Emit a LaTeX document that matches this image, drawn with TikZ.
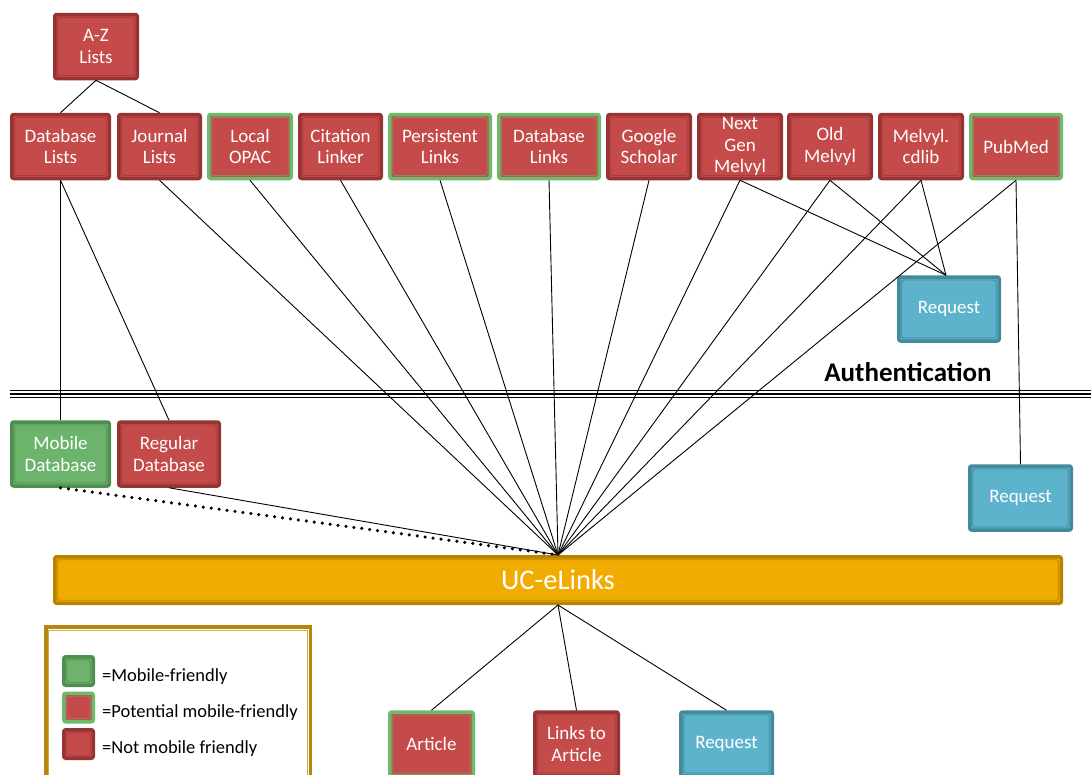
\documentclass[tikz,border=0pt]{standalone}
\usepackage{fontspec}
\setmainfont{Carlito}
\definecolor{redfill}{HTML}{C54A4A}
\definecolor{reddark}{HTML}{963434}
\definecolor{redinner}{HTML}{A83C3C}
\definecolor{greenfill}{HTML}{6CB46C}
\definecolor{greendark}{HTML}{4F8E4F}
\definecolor{greenlight}{HTML}{6DBA6D}
\definecolor{potinner}{HTML}{8E8A5A}
\definecolor{bluefill}{HTML}{5EB3CC}
\definecolor{bluedark}{HTML}{428A9C}
\definecolor{goldfill}{HTML}{F0AC00}
\definecolor{golddark}{HTML}{B88400}
\definecolor{legendgold}{HTML}{B8860B}
\begin{document}
\begin{tikzpicture}[x=1pt,y=-1pt,
  inline/.style={path picture={\draw[line width=0.9pt,#1]
      ([shift={(3pt,3pt)}]path picture bounding box.south west) rectangle
      ([shift={(-3pt,-3pt)}]path picture bounding box.north east);}},
  box/.style={rectangle, rounded corners=2pt, line width=3.5pt, inner sep=0pt,
    align=center, text=white, font=\fontsize{19}{21.5}\selectfont,
    minimum height=64pt},
  notm/.style={box, fill=redfill, draw=reddark, inline=redinner},
  pot/.style={box, fill=redfill, draw=greenlight, inline=potinner},
  mob/.style={box, fill=greenfill, draw=greendark, inline=greendark},
  req/.style={box, fill=bluefill, draw=bluedark, inline=bluedark},
  w/.style={minimum width=#1-3.5pt},
  conn/.style={line width=0.9pt, black},
  dots/.style={line width=3.5pt, line cap=round, dash pattern=on 0pt off 8pt},
  legtext/.style={anchor=west, font=\fontsize{18.5}{22}\selectfont, text=black, inner sep=0pt}
]
\useasboundingbox (0,0) rectangle (1091,774);

% top nodes
\node[notm, w=86] (az) at (96,46.5) {A-Z\\Lists};
\node[notm, w=101] (dbl) at (60.5,146.5) {Database\\Lists};
\node[notm, w=85] (jl) at (159.5,146.5) {Journal\\Lists};
\node[pot, w=86] (lo) at (250,146.5) {Local\\OPAC};
\node[notm, w=85] (cl) at (340.5,146.5) {Citation\\Linker};
\node[pot, w=104] (pl) at (440,146.5) {Persistent\\Links};
\node[pot, w=104] (dbk) at (549,146.5) {Database\\Links};
\node[notm, w=86] (gs) at (649,146.5) {Google\\Scholar};
\node[notm, w=86] (ngm) at (740,146.5) {Next\\Gen\\Melvyl};
\node[notm, w=86] (om) at (830,146.5) {Old\\Melvyl};
\node[notm, w=86] (mc) at (921,146.5) {Melvyl.\\cdlib};
\node[pot, w=94] (pm) at (1016,146.5) {PubMed};

\node[req, w=104] (r1) at (949,309) {Request};

% authentication line
\draw[line width=1pt] (10,390.5) -- (1091,390.5);
\draw[line width=2.2pt] (10,394) -- (1091,394);
\draw[line width=1pt] (10,397.5) -- (1091,397.5);
\node[font=\bfseries\fontsize{27}{30}\selectfont, inner sep=0pt] (auth) at (908,372) {Authentication};

\node[mob, w=101] (mdb) at (60.5,454) {Mobile\\Database};
\node[notm, w=104] (rdb) at (169,454) {Regular\\Database};
\node[req, w=105] (r2) at (1020.5,498) {Request};

\node[box, fill=goldfill, draw=golddark, inline=golddark, w=1010, minimum height=46.5pt,
  font=\fontsize{28.5}{32}\selectfont] (uc) at (558,580) {UC-eLinks};

\node[pot, w=87] (art) at (431.5,744) {Article};
\node[notm, w=87] (lta) at (576.5,744) {Links to\\Article};
\node[req, w=95] (r3) at (726.5,744) {Request};

% legend
\node[rectangle, draw=legendgold, line width=3.5pt, minimum width=264.5pt, minimum height=160pt,
  inline=legendgold!70] (leg) at (178,707) {};
\node[mob, w=33, minimum height=28.5pt] (lm) at (78.5,671) {};
\node[pot, w=33, minimum height=28.5pt] (lp) at (78.5,707.5) {};
\node[notm, w=33, minimum height=28.5pt] (ln) at (78.5,744) {};
\node[legtext] (tm) at (102,677) {=Mobile-friendly};
\node[legtext] (tp) at (102,713) {=Potential mobile-friendly};
\node[legtext] (tn) at (102,749) {=Not mobile friendly};

% connectors
\draw[conn] (az.south) -- (dbl.north);
\draw[conn] (az.south) -- (jl.north);
\draw[conn] (dbl.south) -- (mdb.north);
\draw[conn] (dbl.south) -- (rdb.north);
\foreach \n in {jl,lo,cl,pl,dbk,gs,ngm,om,mc,pm}
  \draw[conn] (\n.south) -- (uc.north);
\foreach \n in {ngm,om,mc}
  \draw[conn] (\n.south) -- ([xshift=-3pt]r1.north);
\draw[conn] (pm.south) -- (r2.north);
\draw[conn] (rdb.south) -- (uc.north);
\draw[dots] (mdb.south) -- (uc.north);
\draw[conn] (uc.south) -- (art.north);
\draw[conn] (uc.south) -- (lta.north);
\draw[conn] (uc.south) -- (r3.north);
\end{tikzpicture}
\end{document}
